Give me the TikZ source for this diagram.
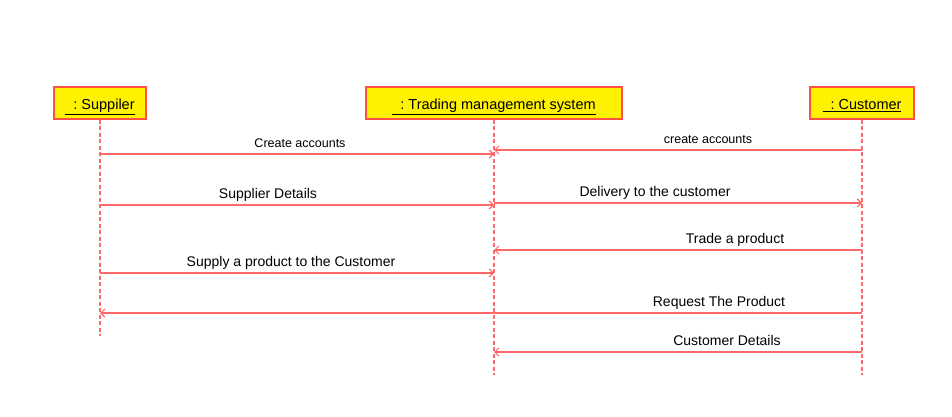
\documentclass[tikz,border=0pt]{standalone}
\usepackage{fontspec}
\setmainfont{Liberation Sans}
\usetikzlibrary{arrows.meta}
\definecolor{objred}{RGB}{255,80,70}
\definecolor{linered}{RGB}{255,105,105}

\begin{document}
\begin{tikzpicture}
  [
    x=1pt, y=-1pt,
    obj/.style  = {draw=objred, fill=yellow, line width=1.2pt, minimum height=32pt,
                   inner sep=0pt, text height=14pt, text depth=1pt,
                   font=\fontsize{14.5}{16}\selectfont},
    life/.style = {draw=linered, line width=1.4pt, dash pattern=on 4pt off 2.5pt},
    msg/.style  = {draw=linered, line width=1.2pt, -{Straight Barb[length=4pt,width=8pt]}},
    lbl/.style  = {anchor=base, inner sep=0pt},
  ]

%Page size
\useasboundingbox (0,0) rectangle (952,417);

%Bottom ends of the lifelines
\def \ysup{336}
\def \ytms{375}

%Objects
\node[obj, minimum width=92pt]  (sup) at (100,103) {\underline{\ \ :\ Suppiler}};
\node[obj, minimum width=256pt] (tms) at (494,103) {\underline{\ \ :\ Trading management system}};
\node[obj, minimum width=104pt] (cus) at (862,103) {\underline{\ \ :\ Customer}};

%Lifelines
\coordinate (supE) at (100,\ysup);
\coordinate (tmsE) at (494,\ytms);
\coordinate (cusE) at (862,\ytms);
\draw[life] (sup) -- (supE);
\draw[life] (tms) -- (tmsE);
\draw[life] (cus) -- (cusE);

%Messages
\foreach [count=\i] \y/\a/\b/\lx/\s/\t in
  {154/sup/tms/300/12.5/Create accounts,
   150/cus/tms/708/12.5/create accounts,
   205/sup/tms/268/14/Supplier Details,
   203/tms/cus/655/14/Delivery to the customer,
   250/cus/tms/735/14/Trade a product,
   273/sup/tms/291/14/Supply a product to the Customer,
   313/cus/sup/719/14/Request The Product,
   352/cus/tms/727/14/Customer Details}
{
\coordinate (m\i) at (0,\y);
\draw[msg] (\a |- m\i) -- (\b |- m\i);
\node[lbl, font=\fontsize{\s}{\s}\selectfont] (l\i) at (\lx,\y-7) {\t};
}
\end{tikzpicture}
\end{document}
